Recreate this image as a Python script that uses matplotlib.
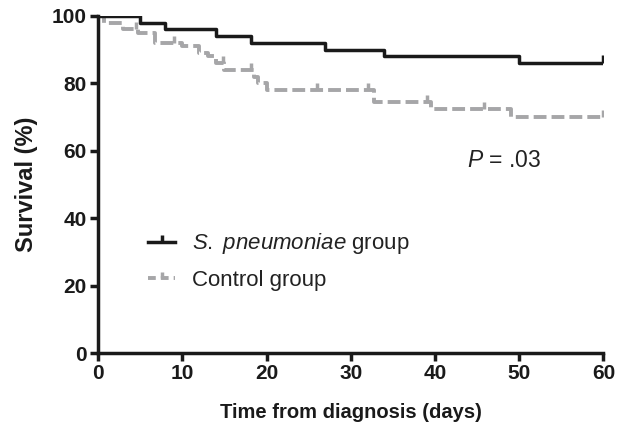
import matplotlib
matplotlib.use("Agg")
import matplotlib.pyplot as plt
from matplotlib.lines import Line2D

plt.rcParams["font.family"] = ["Liberation Sans", "DejaVu Sans"]
plt.rcParams["mathtext.fontset"] = "custom"
plt.rcParams["mathtext.rm"] = "Liberation Sans"
plt.rcParams["mathtext.it"] = "Liberation Sans:italic"

# Kaplan-Meier steps (time in days, survival in %)
sp_times = [0, 5, 8, 14, 18.2, 27, 34, 50, 60]
sp_surv = [100, 98, 96, 94, 92, 90, 88, 86, 86]
sp_censor_t = [60]
sp_censor_s = [86]

ctrl_times = [0, 0.7, 3, 4.7, 6.7, 10, 12, 13, 14, 15, 18.5, 19, 20, 32.7, 39.5, 49, 60]
ctrl_surv = [100, 98, 96, 95, 92, 91, 89, 88, 86, 84, 82, 80, 78, 74.5, 72.5, 70, 70]
ctrl_censor_t = [4.5, 9, 14.8, 18.2, 26, 32, 39, 45.8, 60]
ctrl_censor_s = [96, 92, 86, 84, 78, 78, 74.5, 72.5, 70]

legend_labels = [r"$\it{S.\ pneumoniae}$ group", "Control group"]

black = "#1a1a1a"
grey = "#a6a6a8"

fig = plt.figure(figsize=(6.17, 4.28), dpi=100)
ax = fig.add_axes([0.159, 0.175, 0.819, 0.788])

ax.step(sp_times, sp_surv, where="post", color=black, lw=2.5, zorder=3)
ax.plot(sp_censor_t, sp_censor_s, ls="none", marker=2, ms=6, mew=2.5, color=black, zorder=3)

ax.step(ctrl_times, ctrl_surv, where="post", color=grey, lw=2.8, dashes=(3.3, 1.3), zorder=2)
ax.plot(ctrl_censor_t, ctrl_censor_s, ls="none", marker=2, ms=5, mew=2.5, color=grey)

ax.set_xlim(0, 60)
ax.set_ylim(0, 100)
ax.set_xticks(range(0, 61, 10))
ax.set_yticks(range(0, 101, 20))
for s in ["top", "right"]:
    ax.spines[s].set_visible(False)
for s in ["left", "bottom"]:
    ax.spines[s].set_linewidth(2.5)
    ax.spines[s].set_color(black)
ax.tick_params(width=2.5, length=6, color=black, labelsize=15, pad=2)
for lab in ax.get_xticklabels() + ax.get_yticklabels():
    lab.set_fontweight("bold")
    lab.set_color(black)

ax.set_xlabel("Time from diagnosis (days)", fontsize=14.5, fontweight="bold", labelpad=14, color=black)
ax.set_ylabel("Survival (%)", fontsize=17, fontweight="bold", labelpad=10, color=black)

ax.text(43.8, 57, r"$\it{P}$ = .03", fontsize=16.5, ha="left", va="center", color="#222222")

# legend handles carry a small censor tick, like the original
handles = [
    Line2D([], [], color=black, lw=2.5, marker=2, ms=5, mew=2.5, markevery=[1]),
    Line2D([], [], color=grey, lw=2.8, dashes=(2.0, 1.3), marker=2, ms=4, mew=2.5, markevery=[1]),
]
leg = ax.legend(handles, legend_labels, loc="upper left", bbox_to_anchor=(0.06, 0.42),
                frameon=False, fontsize=16, handlelength=1.2, labelspacing=0.62,
                handletextpad=0.75, numpoints=1)
for t in leg.get_texts():
    t.set_color("#222222")

fig.savefig("out.png", dpi=100)
